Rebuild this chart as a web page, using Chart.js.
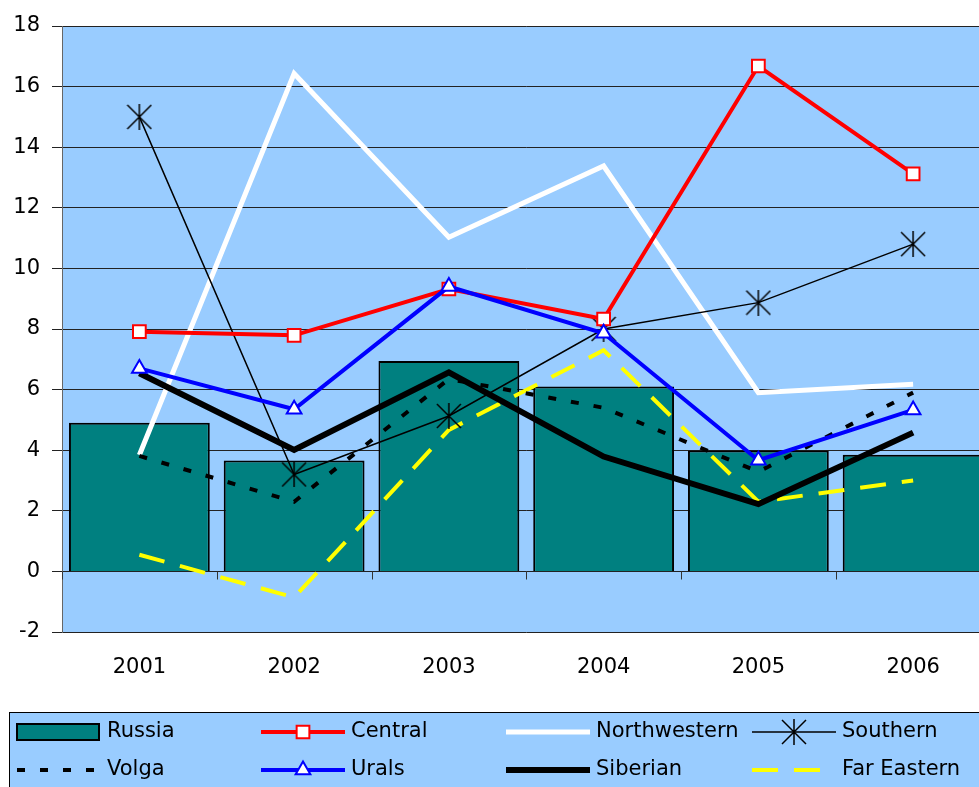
<!DOCTYPE html>
<html>
<head>
<meta charset="utf-8">
<script src="https://cdn.jsdelivr.net/npm/chart.js@4.4.1/dist/chart.umd.min.js"></script>
<style>
  html, body { margin: 0; padding: 0; background: #fff; overflow: hidden; }
  #wrap { width: 979px; height: 787px; overflow: hidden; }
</style>
</head>
<body>
<div id="wrap"><canvas id="chart" width="1004" height="787"></canvas></div>
<script>
const years = ['2001', '2002', '2003', '2004', '2005', '2006'];
const russia = [4.91, 3.66, 6.94, 6.10, 3.99, 3.85];
const central = [7.91, 7.79, 9.32, 8.33, 16.68, 13.12];
const northwestern = [3.84, 16.43, 11.03, 13.38, 5.90, 6.18];
const southern = [15.0, 3.2, 5.13, 8.0, 8.87, 10.8];
const volga = [3.81, 2.3, 6.35, 5.4, 3.29, 5.9];
const urals = [6.7, 5.35, 9.4, 7.86, 3.67, 5.33];
const siberian = [6.54, 4.01, 6.57, 3.79, 2.22, 4.58];
const farEastern = [0.55, -0.86, 4.67, 7.3, 2.3, 3.0];
const yTicks = { min: -2, max: 18, step: 2 };

Chart.defaults.font.family = '"DejaVu Sans", sans-serif';
Chart.defaults.font.size = 21;
Chart.defaults.color = '#000';

// Excel style asterisk marker (X plus vertical bar)
function makeAsterisk() {
    const c = document.createElement('canvas');
    c.width = 26;
    c.height = 26;
    const g = c.getContext('2d');
    g.strokeStyle = '#000';
    g.lineWidth = 1.5;
    g.beginPath();
    g.moveTo(1, 1); g.lineTo(25, 25);
    g.moveTo(25, 1); g.lineTo(1, 25);
    g.moveTo(13, 0); g.lineTo(13, 26);
    g.stroke();
    return c;
}
const asterisk = makeAsterisk();

const lineBase = { type: 'line', fill: false, tension: 0, pointRadius: 0, borderCapStyle: 'butt', borderJoinStyle: 'miter' };

const datasets = [
    { type: 'bar', label: 'Russia', data: russia, backgroundColor: '#008080', borderColor: '#000', borderWidth: 2,
      barPercentage: 0.91, categoryPercentage: 1, order: 10 },
    { ...lineBase, label: 'Central', data: central, borderColor: '#FF0000', borderWidth: 4,
      pointStyle: 'rect', pointRadius: 9, pointBackgroundColor: '#fff', pointBorderColor: '#FF0000', pointBorderWidth: 2, order: 2 },
    { ...lineBase, label: 'Northwestern', data: northwestern, borderColor: '#FFFFFF', borderWidth: 5, order: 6 },
    { ...lineBase, label: 'Southern', data: southern, borderColor: '#000', borderWidth: 1.5,
      pointStyle: asterisk, pointRadius: 12, order: 3 },
    { ...lineBase, label: 'Volga', data: volga, borderColor: '#000', borderWidth: 4, borderDash: [8, 15], order: 5 },
    { ...lineBase, label: 'Urals', data: urals, borderColor: '#0000FF', borderWidth: 4,
      pointStyle: 'triangle', pointRadius: 8.5, pointBackgroundColor: '#fff', pointBorderColor: '#0000FF', pointBorderWidth: 2, order: 1 },
    { ...lineBase, label: 'Siberian', data: siberian, borderColor: '#000', borderWidth: 6, order: 4 },
    { ...lineBase, label: 'Far Eastern', data: farEastern, borderColor: '#FFFF00', borderWidth: 4, borderDash: [26, 16], order: 7 }
];

const plotBackground = {
    id: 'plotBackground',
    beforeDraw(chart) {
        const { ctx, chartArea: a } = chart;
        ctx.save();
        ctx.fillStyle = '#99CCFF';
        ctx.fillRect(a.left, a.top, a.right - a.left, a.bottom - a.top);
        ctx.restore();
    }
};

// category tick marks hang below the zero line
const zeroTicks = {
    id: 'zeroTicks',
    afterDatasetsDraw(chart) {
        const { ctx } = chart;
        const xs = chart.scales.x, ys = chart.scales.y;
        const y0 = Math.round(ys.getPixelForValue(0)) + 0.5;
        ctx.save();
        ctx.strokeStyle = '#333';
        ctx.lineWidth = 1;
        ctx.beginPath();
        for (let i = 0; i <= years.length; i++) {
            const px = Math.round(xs.getPixelForValue(i - 0.5)) + 0.5;
            ctx.moveTo(px, y0);
            ctx.lineTo(px, y0 + 8);
        }
        ctx.stroke();
        ctx.restore();
    }
};

// two row legend box under the plot
const boxLegend = {
    id: 'boxLegend',
    afterDraw(chart) {
        const { ctx } = chart;
        const cols = [17, 261, 506, 752];
        const rows = [732, 770];
        const symW = 84;
        ctx.save();
        ctx.fillStyle = '#99CCFF';
        ctx.fillRect(9, 712, 1100, 200);
        ctx.strokeStyle = '#000';
        ctx.lineWidth = 1;
        ctx.strokeRect(9.5, 712.5, 1100, 200);

        chart.data.datasets.forEach((ds, i) => {
            const x = cols[i % 4];
            const y = rows[Math.floor(i / 4)];
            if (ds.type === 'bar') {
                ctx.fillStyle = ds.backgroundColor;
                ctx.fillRect(x, y - 8, symW - 2, 16);
                ctx.strokeStyle = ds.borderColor;
                ctx.lineWidth = 2;
                ctx.strokeRect(x, y - 8, symW - 2, 16);
            } else {
                ctx.strokeStyle = ds.borderColor;
                ctx.lineWidth = ds.borderWidth;
                ctx.setLineDash(ds.borderDash || []);
                ctx.lineCap = 'butt';
                ctx.beginPath();
                ctx.moveTo(x, y);
                ctx.lineTo(x + symW, y);
                ctx.stroke();
                ctx.setLineDash([]);
                if (ds.pointRadius > 0) {
                    ctx.fillStyle = ds.pointBackgroundColor || '#fff';
                    ctx.strokeStyle = ds.pointBorderColor || '#000';
                    ctx.lineWidth = ds.pointBorderWidth || 1;
                    Chart.helpers.drawPoint(ctx, {
                        pointStyle: ds.pointStyle, radius: ds.pointRadius, rotation: 0,
                        borderWidth: ds.pointBorderWidth || 0
                    }, x + symW / 2, y);
                }
            }
            ctx.fillStyle = '#000';
            ctx.font = '21px "DejaVu Sans", sans-serif';
            ctx.textBaseline = 'middle';
            ctx.textAlign = 'left';
            ctx.fillText(ds.label, x + 90, y);
        });
        ctx.restore();
    }
};

new Chart(document.getElementById('chart'), {
    type: 'bar',
    data: { labels: years, datasets: datasets },
    plugins: [plotBackground, zeroTicks, boxLegend],
    options: {
        responsive: false,
        animation: false,
        devicePixelRatio: 1,
        layout: { padding: { top: 26, right: 10, bottom: 0, left: 0 } },
        plugins: {
            legend: { display: false },
            tooltip: { enabled: false }
        },
        scales: {
            x: {
                grid: { display: false, drawTicks: false },
                border: { display: false },
                ticks: { padding: 23 },
                afterFit(s) { s.height = 155; }
            },
            y: {
                min: yTicks.min,
                max: yTicks.max,
                ticks: { stepSize: yTicks.step, padding: 12 },
                grid: { color: '#222', lineWidth: 1, tickLength: 10 },
                border: { color: '#666', width: 1 },
                afterFit(s) { s.width = 62; }
            }
        }
    }
});
</script>
</body>
</html>
